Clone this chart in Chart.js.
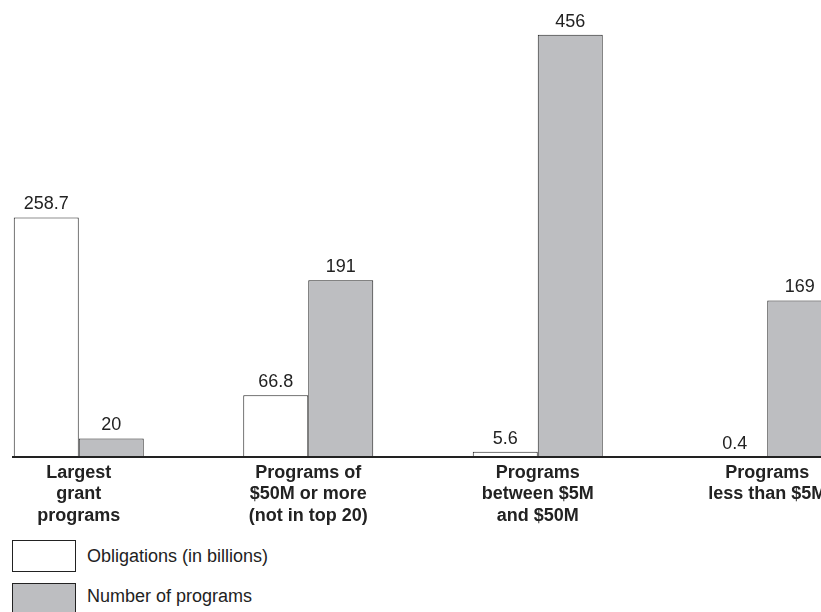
<!DOCTYPE html>
<html>
<head>
<meta charset="utf-8">
<script src="https://cdn.jsdelivr.net/npm/chart.js@4/dist/chart.umd.min.js"></script>
<style>
  html, body { margin: 0; padding: 0; background: #fff; overflow: hidden; }
  body { width: 821px; height: 612px; position: relative; font-family: "Liberation Sans", Arial, sans-serif; color: #222; }
  #wrap { position: absolute; left: -36px; top: 0; width: 918px; height: 530px; }
  .key { position: absolute; left: 12px; width: 62px; height: 30px; border: 1px solid #222; }
  .keytxt { position: absolute; left: 87px; font-size: 18px; line-height: 22px; }
</style>
</head>
<body>
<div id="wrap"><canvas id="grantBars"></canvas></div>

<div class="key" style="top:540px; background:#fff;"></div>
<div class="keytxt" style="top:545px;">Obligations (in billions)</div>
<div class="key" style="top:583px; background:#bdbec1;"></div>
<div class="keytxt" style="top:585px;">Number of programs</div>

<script>
  const categories = [
    ['Largest', 'grant', 'programs'],
    ['Programs of', '$50M or more', '(not in top 20)'],
    ['Programs', 'between $5M', 'and $50M'],
    ['Programs', 'less than $5M']
  ];
  const obligations = [258.7, 66.8, 5.6, 0.4];
  const programCounts = [20, 191, 456, 169];

  // value labels above each bar
  const valueLabels = {
    id: 'valueLabels',
    afterDatasetsDraw(chart) {
      const ctx = chart.ctx;
      ctx.save();
      ctx.font = '18px "Liberation Sans", Arial, sans-serif';
      ctx.fillStyle = '#222';
      ctx.textAlign = 'center';
      ctx.textBaseline = 'bottom';
      chart.data.datasets.forEach(function (ds, i) {
        chart.getDatasetMeta(i).data.forEach(function (bar, j) {
          ctx.fillText(String(ds.data[j]), bar.x, bar.y - 4);
        });
      });
      ctx.restore();
    }
  };

  // baseline under the bars
  const baseLine = {
    id: 'baseLine',
    afterDatasetsDraw(chart) {
      const ctx = chart.ctx;
      const y = chart.scales.y.getPixelForValue(0);
      ctx.save();
      ctx.strokeStyle = '#222';
      ctx.lineWidth = 2;
      ctx.beginPath();
      ctx.moveTo(48, y);
      ctx.lineTo(chart.chartArea.right, y);
      ctx.stroke();
      ctx.restore();
    }
  };

  new Chart(document.getElementById('grantBars'), {
    type: 'bar',
    data: {
      labels: categories,
      datasets: [{
        label: 'Obligations (in billions)',
        data: obligations,
        backgroundColor: '#ffffff',
        borderColor: '#222',
        borderWidth: 1
      }, {
        label: 'Number of programs',
        data: programCounts,
        backgroundColor: '#bdbec1',
        borderColor: '#222',
        borderWidth: 1
      }]
    },
    options: {
      responsive: true,
      maintainAspectRatio: false,
      animation: false,
      layout: { padding: { top: 12.5, left: 0, right: 0, bottom: 0 } },
      datasets: {
        bar: { categoryPercentage: 0.5664, barPercentage: 1 }
      },
      plugins: {
        legend: { display: false },
        tooltip: { enabled: false }
      },
      scales: {
        x: {
          grid: { display: false, drawTicks: false },
          border: { display: false },
          ticks: {
            color: '#222',
            padding: 5,
            maxRotation: 0,
            autoSkip: false,
            font: { family: '"Liberation Sans", Arial, sans-serif', size: 18, weight: 'bold', lineHeight: 1.2 }
          },
          afterFit: function (scale) { scale.height = 73; }
        },
        y: {
          display: false,
          min: 0,
          max: 480
        }
      }
    },
    plugins: [valueLabels, baseLine]
  });
</script>
</body>
</html>
